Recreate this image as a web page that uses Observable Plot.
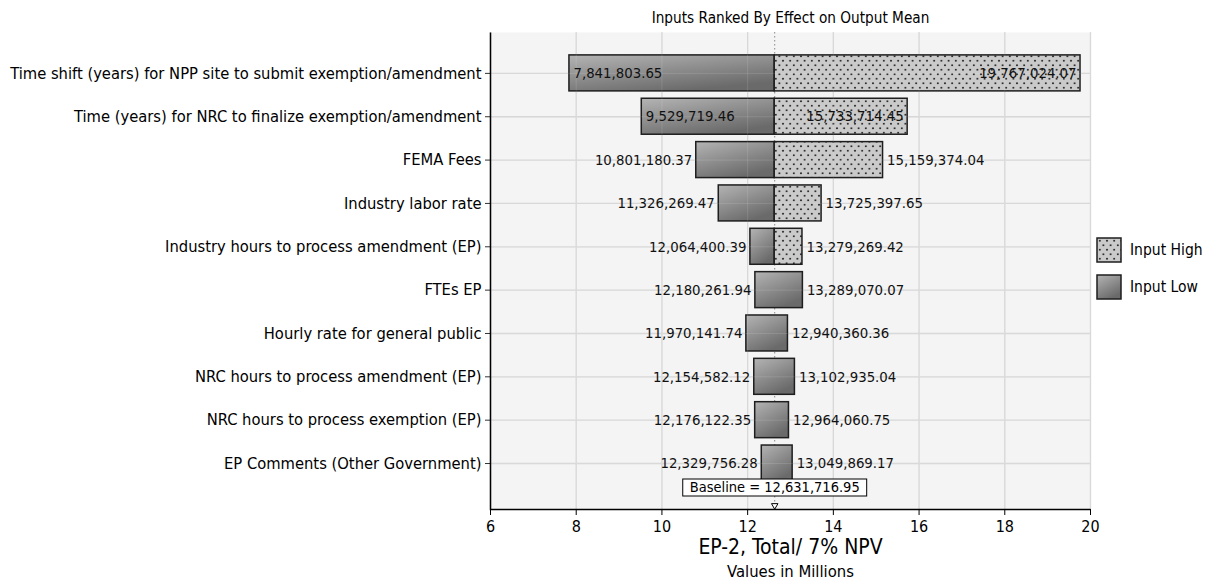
<!DOCTYPE html>
<html>
<head>
<meta charset="utf-8">
<script src="https://cdn.jsdelivr.net/npm/d3@7"></script>
<script src="https://cdn.jsdelivr.net/npm/@observablehq/plot@0.6"></script>
<style>
  body { margin: 0; background: #ffffff; }
  #chart svg { display: block; }
</style>
</head>
<body>
<div id="chart"></div>
<script>
// ---- data ----
const inputs = [
  "Time shift (years) for NPP site to submit exemption/amendment",
  "Time (years) for NRC to finalize exemption/amendment",
  "FEMA Fees",
  "Industry labor rate",
  "Industry hours to process amendment (EP)",
  "FTEs EP",
  "Hourly rate for general public",
  "NRC hours to process amendment (EP)",
  "NRC hours to process exemption (EP)",
  "EP Comments (Other Government)"
];
const outputLeft = [7841803.65, 9529719.46, 10801180.37, 11326269.47, 12064400.39,
                    12180261.94, 11970141.74, 12154582.12, 12176122.35, 12329756.28];
const outputRight = [19767024.07, 15733714.45, 15159374.04, 13725397.65, 13279269.42,
                     13289070.07, 12940360.36, 13102935.04, 12964060.75, 13049869.17];
const rightSegmentInput = ["Input High", "Input High", "Input High", "Input High", "Input High",
                           "Input Low", "Input Low", "Input Low", "Input Low", "Input Low"];
const baseline = 12631716.95;
const xTicks = [6, 8, 10, 12, 14, 16, 18, 20];
const legendItems = ["Input High", "Input Low"];
const chartTitle = "Inputs Ranked By Effect on Output Mean";
const xTitle = "EP-2, Total/ 7% NPV";
const xSubtitle = "Values in Millions";

// ---- derived ----
const M = 1e6;
const base = baseline / M;
const fmt = d3.format(",.2f");
const fillFor = k => k === "Input High" ? "url(#dotsPat)" : "url(#lowGrad)";

const segs = [];
inputs.forEach((name, i) => {
  const lo = outputLeft[i] / M, hi = outputRight[i] / M;
  if (rightSegmentInput[i] === "Input High") {
    segs.push({name, x1: lo, x2: base, kind: "Input Low"});
    segs.push({name, x1: base, x2: hi, kind: "Input High"});
  } else {
    segs.push({name, x1: lo, x2: hi, kind: "Input Low"});
  }
});
const fitUnits = 2.8;
const leftLabels = inputs.map((name, i) => ({name, v: outputLeft[i], inside: base - outputLeft[i] / M > fitUnits}));
const rightLabels = inputs.map((name, i) => ({name, v: outputRight[i], inside: outputRight[i] / M - base > fitUnits}));

const FONT = "'DejaVu Sans Condensed', 'DejaVu Sans', sans-serif";
const VAL = 14.8;

const plot = Plot.plot({
  width: 1217,
  height: 588,
  marginLeft: 490,
  marginRight: 127,
  marginTop: 32,
  marginBottom: 79,
  style: {fontFamily: FONT, fontSize: "14px", background: "#ffffff", color: "#000"},
  x: {domain: [6, 20]},
  y: {type: "band", domain: inputs, paddingInner: 0.17, paddingOuter: 0.587, align: 0.45, round: false, label: null},
  marks: [
    Plot.frame({fill: "#f4f4f4", stroke: "none"}),
    Plot.gridX({ticks: xTicks, stroke: "#d4d4d4", strokeOpacity: 1, strokeWidth: 1.3}),
    Plot.gridY({stroke: "#d4d4d4", strokeOpacity: 1, strokeWidth: 1.3}),
    Plot.ruleX([base], {stroke: "#8a8a8a", strokeDasharray: "1.5,2.5", strokeWidth: 1}),
    Plot.barX(segs.filter(d => d.kind === "Input Low"), {
      y: "name", x1: "x1", x2: "x2", fill: fillFor("Input Low"), stroke: "#1e1e1e", strokeWidth: 1.5
    }),
    Plot.barX(segs.filter(d => d.kind === "Input High"), {
      y: "name", x1: "x1", x2: "x2", fill: fillFor("Input High"), stroke: "#1e1e1e", strokeWidth: 1.5
    }),
    // faint grid showing through
    Plot.gridX({ticks: xTicks, stroke: "#ffffff", strokeOpacity: 0.12}),
    Plot.gridY({stroke: "#ffffff", strokeOpacity: 0.12}),
    // value labels
    Plot.text(leftLabels.filter(d => d.inside), {y: "name", x: d => d.v / M, text: d => fmt(d.v), textAnchor: "start", dx: 4, fontSize: VAL, fill: "#111"}),
    Plot.text(leftLabels.filter(d => !d.inside), {y: "name", x: d => d.v / M, text: d => fmt(d.v), textAnchor: "end", dx: -4, fontSize: VAL, fill: "#111"}),
    Plot.text(rightLabels.filter(d => d.inside), {y: "name", x: d => d.v / M, text: d => fmt(d.v), textAnchor: "end", dx: -4, fontSize: VAL, fill: "#111"}),
    Plot.text(rightLabels.filter(d => !d.inside), {y: "name", x: d => d.v / M, text: d => fmt(d.v), textAnchor: "start", dx: 4, fontSize: VAL, fill: "#111"}),
    // axes
    Plot.axisY({tickSize: 5, tickPadding: 4, fontSize: 16.4, label: null, stroke: "#333", fill: "#000"}),
    Plot.axisX({ticks: xTicks, tickSize: 6, tickPadding: 5, fontSize: 16, label: null, tickFormat: d => String(d), stroke: "#000", fill: "#000"}),
    Plot.frame({stroke: "#000", strokeWidth: 1.5, strokeDasharray: "0,1077,1077", fill: "none"}),
    // baseline marker
    Plot.text([baseline], {x: d => d / M, frameAnchor: "bottom", dy: -18, text: d => "Baseline = " + fmt(d), fontSize: 14.5, fill: "#000"}),
    Plot.dot([baseline], {x: d => d / M, frameAnchor: "bottom", dy: -4, symbol: "triangle", rotate: 180, r: 2.4, fill: "#fff", stroke: "#000", strokeWidth: 1}),
    // titles
    Plot.text([chartTitle], {frameAnchor: "top", dy: -20, fontSize: 15.2, fill: "#000"}),
    Plot.text([xTitle], {frameAnchor: "bottom", dy: 44, fontSize: 21, fill: "#000"}),
    Plot.text([xSubtitle], {frameAnchor: "bottom", dy: 67, fontSize: 16.5, fill: "#000"})
  ]
});

document.getElementById("chart").appendChild(plot);

// defs: gradient and dot pattern
const svg = d3.select(plot);
const defs = svg.insert("defs", ":first-child");
const grad = defs.append("linearGradient").attr("id", "lowGrad")
  .attr("x1", 0).attr("y1", 0).attr("x2", 0.55).attr("y2", 1);
grad.append("stop").attr("offset", "0%").attr("stop-color", "#b4b4b4");
grad.append("stop").attr("offset", "100%").attr("stop-color", "#6a6a6a");
const pat = defs.append("pattern").attr("id", "dotsPat")
  .attr("patternUnits", "userSpaceOnUse").attr("width", 7.2).attr("height", 9);
pat.append("rect").attr("width", 7.2).attr("height", 9).attr("fill", "#cacaca");
pat.append("circle").attr("cx", 1.8).attr("cy", 2.25).attr("r", 1).attr("fill", "#2a2a2a");
pat.append("circle").attr("cx", 5.4).attr("cy", 6.75).attr("r", 1).attr("fill", "#2a2a2a");

// box around baseline label (placed in the text's own coordinate frame)
svg.selectAll("text").filter(function() { return (this.textContent || "").startsWith("Baseline ="); })
  .each(function() {
    const bb = this.getBBox();
    const tr = this.getAttribute("transform");
    const r = d3.select(this.parentNode).insert("rect", ":first-child")
      .attr("x", bb.x - 7).attr("y", bb.y + 0.5).attr("width", bb.width + 14).attr("height", bb.height + 1)
      .attr("fill", "#fff").attr("stroke", "#000").attr("stroke-width", 1);
    if (tr) r.attr("transform", tr);
  });

// legend
const lg = svg.append("g");
legendItems.forEach((k, i) => {
  const y0 = 238 + i * 37;
  lg.append("rect").attr("x", 1097).attr("y", y0).attr("width", 24).attr("height", 24)
    .attr("fill", fillFor(k)).attr("stroke", "#1e1e1e").attr("stroke-width", 1.5);
  lg.append("text").attr("x", 1130).attr("y", y0 + 12).attr("dy", "0.35em")
    .style("text-anchor", "start").style("font-family", FONT).style("font-size", "15.5px")
    .attr("fill", "#000").text(k);
});
</script>
</body>
</html>
